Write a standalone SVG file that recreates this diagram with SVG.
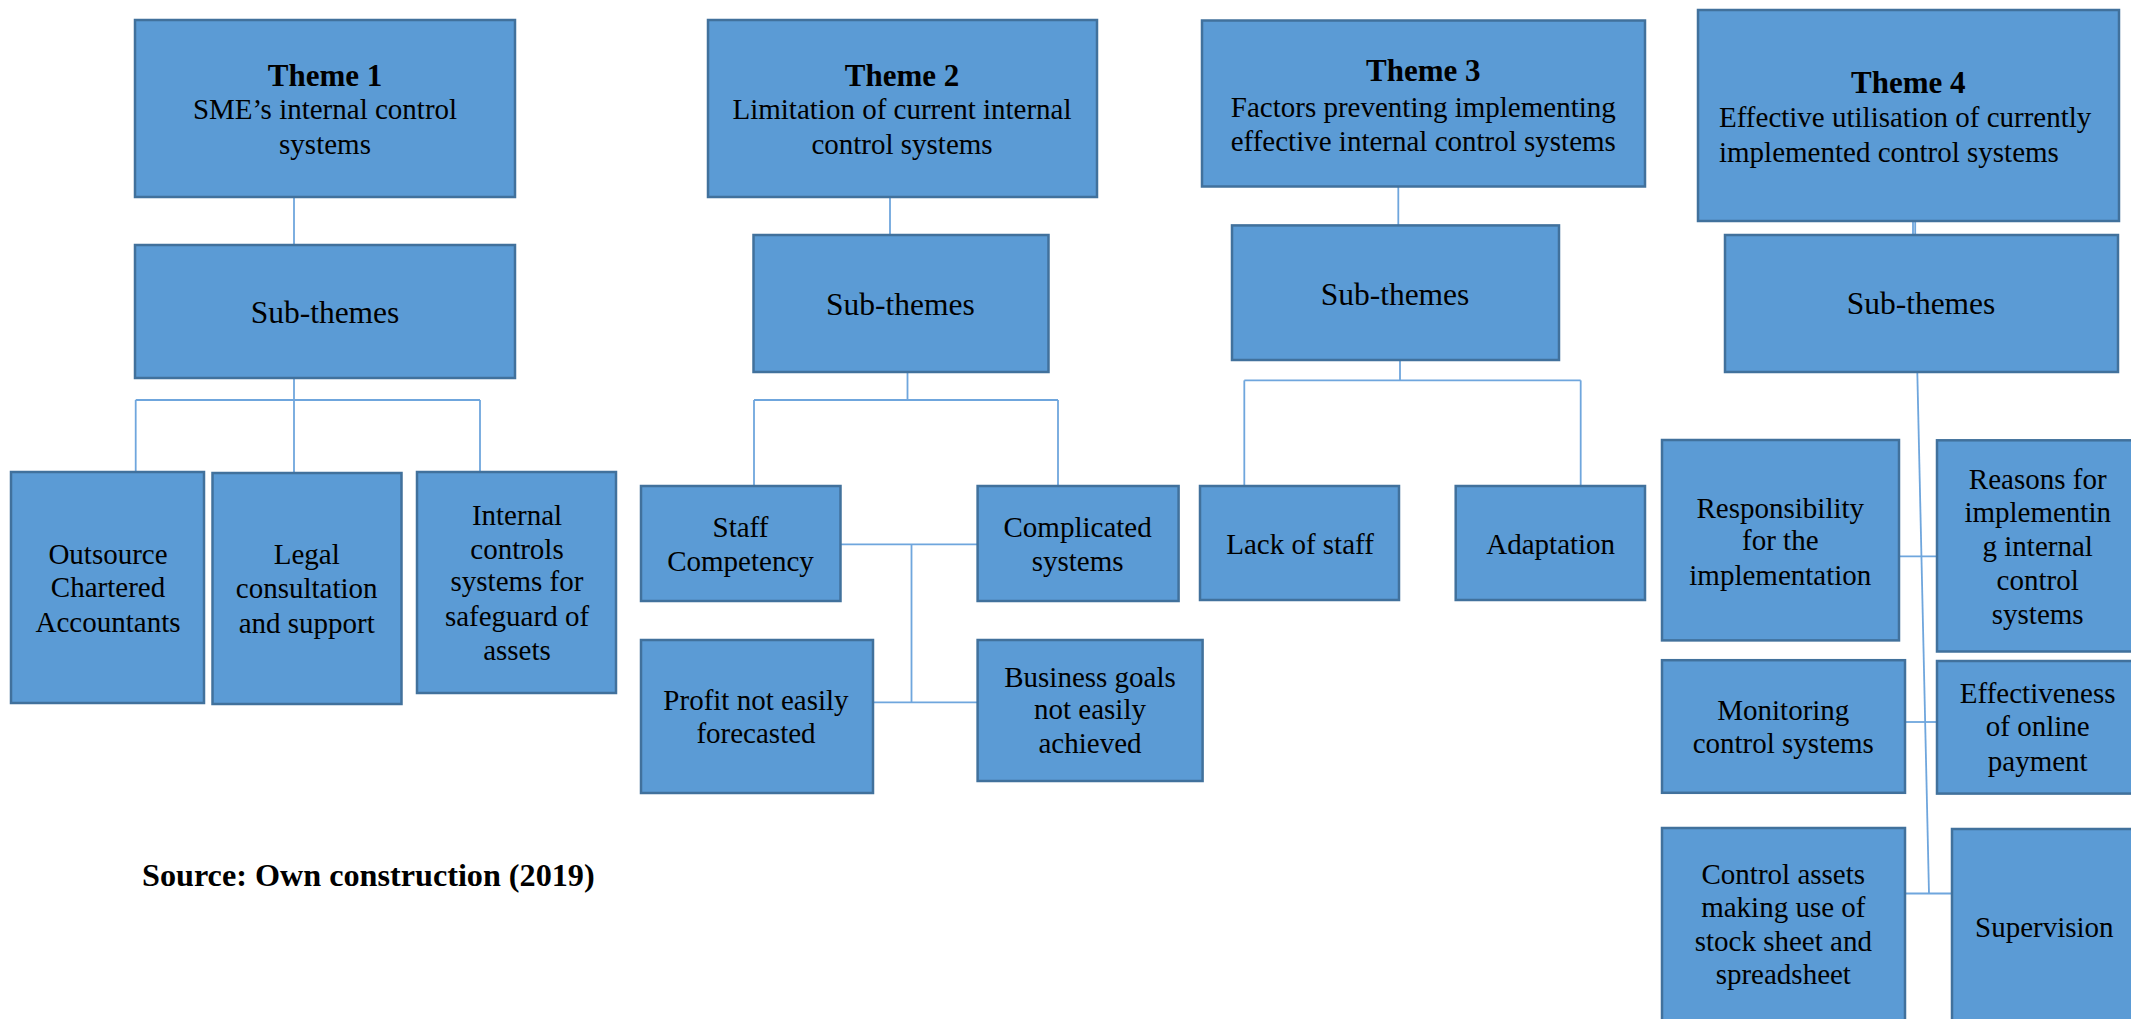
<svg xmlns="http://www.w3.org/2000/svg" width="2131" height="1019" viewBox="0 0 2131 1019">
  <style>
    .box { fill: #5B9BD5; stroke: #41719C; stroke-width: 2.5; }
    .lbl { font-family: "Liberation Serif", "Times New Roman", serif; font-size: 29px; fill: #000; text-anchor: middle; }
    .head { font-weight: bold; font-size: 31px; }
    .sub { font-size: 31.5px; }
    .con { stroke: #6FA6DD; stroke-width: 1.8; fill: none; }
    .src { font-family: "Liberation Serif", "Times New Roman", serif; font-size: 32.2px; font-weight: bold; fill: #000; }
  </style>

  <!-- connectors -->
  <g id="connectors">
    <!-- theme 1 branch -->
    <line class="con" x1="294" y1="197" x2="294" y2="245"/>
    <line class="con" x1="294" y1="378" x2="294" y2="473"/>
    <line class="con" x1="135.7" y1="400" x2="480" y2="400"/>
    <line class="con" x1="135.7" y1="400" x2="135.7" y2="472"/>
    <line class="con" x1="480" y1="400" x2="480" y2="472"/>
    <!-- theme 2 branch -->
    <line class="con" x1="890" y1="197" x2="890" y2="235"/>
    <line class="con" x1="907.5" y1="372" x2="907.5" y2="400"/>
    <line class="con" x1="754" y1="400" x2="1058" y2="400"/>
    <line class="con" x1="754" y1="400" x2="754" y2="486"/>
    <line class="con" x1="1058" y1="400" x2="1058" y2="486"/>
    <line class="con" x1="840.5" y1="544.3" x2="977.6" y2="544.3"/>
    <line class="con" x1="911.5" y1="544.3" x2="911.5" y2="702.3"/>
    <line class="con" x1="873" y1="702.3" x2="977.6" y2="702.3"/>
    <!-- theme 3 branch -->
    <line class="con" x1="1398.3" y1="186.6" x2="1398.3" y2="225.4"/>
    <line class="con" x1="1400" y1="360" x2="1400" y2="380.4"/>
    <line class="con" x1="1244.3" y1="380.4" x2="1580.7" y2="380.4"/>
    <line class="con" x1="1244.3" y1="380.4" x2="1244.3" y2="486"/>
    <line class="con" x1="1580.7" y1="380.4" x2="1580.7" y2="486"/>
    <!-- theme 4 branch -->
    <line class="con" x1="1913" y1="221" x2="1913" y2="235"/>
    <line class="con" x1="1915.2" y1="221" x2="1915.2" y2="235"/>
    <line class="con" x1="1917.3" y1="372" x2="1929" y2="893.5"/>
    <line class="con" x1="1899" y1="556.3" x2="1937" y2="556.3"/>
    <line class="con" x1="1905" y1="722" x2="1937" y2="722"/>
    <line class="con" x1="1905" y1="893.5" x2="1952" y2="893.5"/>
  </g>

  <!-- theme 1 -->
  <g id="theme1">
    <rect class="box" x="135" y="20" width="380" height="177"/>
    <text class="lbl head" x="325" y="86">Theme 1</text>
    <text class="lbl" x="325" y="119">SME’s internal control</text>
    <text class="lbl" x="325" y="154">systems</text>
  </g>
  <g id="sub1">
    <rect class="box" x="135" y="245" width="380" height="133"/>
    <text class="lbl sub" x="325" y="322.7">Sub-themes</text>
  </g>
  <g id="outsource">
    <rect class="box" x="11" y="472" width="193" height="231"/>
    <text class="lbl" x="108" y="563.9">Outsource</text>
    <text class="lbl" x="108" y="596.8">Chartered</text>
    <text class="lbl" x="108" y="631.8">Accountants</text>
  </g>
  <g id="legal">
    <rect class="box" x="212.5" y="473" width="189" height="231"/>
    <text class="lbl" x="306.7" y="564">Legal</text>
    <text class="lbl" x="306.7" y="598">consultation</text>
    <text class="lbl" x="306.7" y="632.5">and support</text>
  </g>
  <g id="internal-controls">
    <rect class="box" x="417" y="472" width="199" height="221"/>
    <text class="lbl" x="517" y="524.6">Internal</text>
    <text class="lbl" x="517" y="558.6">controls</text>
    <text class="lbl" x="517" y="591.4">systems for</text>
    <text class="lbl" x="517" y="625.7">safeguard of</text>
    <text class="lbl" x="517" y="660.4">assets</text>
  </g>

  <!-- theme 2 -->
  <g id="theme2">
    <rect class="box" x="708" y="20" width="389" height="177"/>
    <text class="lbl head" x="902" y="86">Theme 2</text>
    <text class="lbl" x="902" y="119.3">Limitation of current internal</text>
    <text class="lbl" x="902" y="154.3">control systems</text>
  </g>
  <g id="sub2">
    <rect class="box" x="753.5" y="235" width="295" height="137"/>
    <text class="lbl sub" x="900.4" y="315">Sub-themes</text>
  </g>
  <g id="staff-competency">
    <rect class="box" x="641" y="486" width="199.5" height="115"/>
    <text class="lbl" x="740.5" y="536.7">Staff</text>
    <text class="lbl" x="740.5" y="570.7">Competency</text>
  </g>
  <g id="complicated-systems">
    <rect class="box" x="977.6" y="486" width="201" height="115"/>
    <text class="lbl" x="1077.6" y="536.7">Complicated</text>
    <text class="lbl" x="1077.6" y="570.7">systems</text>
  </g>
  <g id="profit">
    <rect class="box" x="641" y="640" width="232" height="153"/>
    <text class="lbl" x="756" y="710">Profit not easily</text>
    <text class="lbl" x="756" y="743.3">forecasted</text>
  </g>
  <g id="business-goals">
    <rect class="box" x="977.6" y="640" width="225" height="141"/>
    <text class="lbl" x="1090" y="686.7">Business goals</text>
    <text class="lbl" x="1090" y="719.3">not easily</text>
    <text class="lbl" x="1090" y="753.3">achieved</text>
  </g>

  <!-- theme 3 -->
  <g id="theme3">
    <rect class="box" x="1202" y="20.5" width="443" height="166"/>
    <text class="lbl head" x="1423.3" y="81">Theme 3</text>
    <text class="lbl" x="1423.3" y="117.4">Factors preventing implementing</text>
    <text class="lbl" x="1423.3" y="151.4">effective internal control systems</text>
  </g>
  <g id="sub3">
    <rect class="box" x="1232" y="225.4" width="327" height="134.6"/>
    <text class="lbl sub" x="1395" y="304.5">Sub-themes</text>
  </g>
  <g id="lack-of-staff">
    <rect class="box" x="1200" y="486" width="199" height="114"/>
    <text class="lbl" x="1300" y="553.6">Lack of staff</text>
  </g>
  <g id="adaptation">
    <rect class="box" x="1455.7" y="486" width="189.3" height="114"/>
    <text class="lbl" x="1550.7" y="553.6">Adaptation</text>
  </g>

  <!-- theme 4 -->
  <g id="theme4">
    <rect class="box" x="1698" y="10" width="421" height="211"/>
    <text class="lbl head" x="1908.3" y="93.3">Theme 4</text>
    <text class="lbl" x="1719" y="126.7" style="text-anchor:start">Effective utilisation of currently</text>
    <text class="lbl" x="1719" y="161.7" style="text-anchor:start">implemented control systems</text>
  </g>
  <g id="sub4">
    <rect class="box" x="1725" y="235" width="393" height="137"/>
    <text class="lbl sub" x="1921" y="314">Sub-themes</text>
  </g>
  <g id="responsibility">
    <rect class="box" x="1662" y="440" width="237" height="200.4"/>
    <text class="lbl" x="1780.3" y="517.6">Responsibility</text>
    <text class="lbl" x="1780.3" y="550">for the</text>
    <text class="lbl" x="1780.3" y="584.8">implementation</text>
  </g>
  <g id="reasons">
    <rect class="box" x="1937" y="440.3" width="220" height="211.2"/>
    <text class="lbl" x="2037.7" y="488.8">Reasons for</text>
    <text class="lbl" x="2037.7" y="521.6">implementin</text>
    <text class="lbl" x="2037.7" y="555.9">g internal</text>
    <text class="lbl" x="2037.7" y="590.3">control</text>
    <text class="lbl" x="2037.7" y="624.2">systems</text>
  </g>
  <g id="monitoring">
    <rect class="box" x="1662" y="660.2" width="243" height="132.6"/>
    <text class="lbl" x="1783.3" y="719.8">Monitoring</text>
    <text class="lbl" x="1783.3" y="753.3">control systems</text>
  </g>
  <g id="online-payment">
    <rect class="box" x="1937" y="661" width="220" height="132.6"/>
    <text class="lbl" x="2037.7" y="703.2">Effectiveness</text>
    <text class="lbl" x="2037.7" y="736.4">of online</text>
    <text class="lbl" x="2037.7" y="771.1">payment</text>
  </g>
  <g id="control-assets">
    <rect class="box" x="1662" y="828" width="243" height="220"/>
    <text class="lbl" x="1783.3" y="883.6">Control assets</text>
    <text class="lbl" x="1783.3" y="917.2">making use of</text>
    <text class="lbl" x="1783.3" y="950.7">stock sheet and</text>
    <text class="lbl" x="1783.3" y="984.3">spreadsheet</text>
  </g>
  <g id="supervision">
    <rect class="box" x="1952" y="829" width="200" height="220"/>
    <text class="lbl" x="2044.3" y="936.9">Supervision</text>
  </g>

  <text class="src" x="142" y="886.4">Source: Own construction (2019)</text>
</svg>
